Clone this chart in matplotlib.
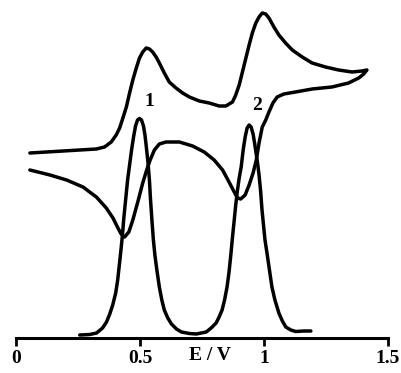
import matplotlib
matplotlib.use('Agg')
import matplotlib.pyplot as plt

# Cyclic voltammogram: forward scan (to 1.415 V) then reverse scan, arbitrary current units
cv_e = [0.056, 0.324, 0.357, 0.384, 0.404, 0.418, 0.431, 0.445, 0.458, 0.471,
        0.485, 0.498, 0.511, 0.525, 0.538, 0.551, 0.565, 0.578, 0.598, 0.618,
        0.645, 0.672, 0.699, 0.739, 0.779, 0.819, 0.846, 0.873, 0.886, 0.900,
        0.913, 0.927, 0.940, 0.953, 0.967, 0.980, 0.993, 1.007, 1.020, 1.040,
        1.060, 1.087, 1.114, 1.154, 1.194, 1.248, 1.301, 1.355, 1.395, 1.415,
        # reverse
        1.402, 1.382, 1.341, 1.274, 1.194, 1.127, 1.080, 1.053, 1.036, 1.020,
        1.007, 0.993, 0.980, 0.969, 0.956, 0.940, 0.924, 0.906, 0.893, 0.880,
        0.859, 0.833, 0.799, 0.759, 0.712, 0.659, 0.605, 0.578, 0.558, 0.541,
        0.527, 0.511, 0.491, 0.471, 0.455, 0.438, 0.424, 0.411, 0.391, 0.364,
        0.324, 0.270, 0.204, 0.137, 0.056]
cv_i = [185, 189, 191, 196, 203, 210, 220, 231, 245, 258,
        270, 280, 286, 290, 289, 286, 281, 275, 265, 256,
        250, 245, 241, 237, 235, 232, 232, 236, 243, 253,
        266, 280, 293, 305, 315, 321, 325, 324, 320, 311,
        303, 295, 288, 281, 275, 271, 268, 266, 267, 268,
        264, 260, 255, 251, 249, 246, 244, 241, 235, 226,
        218, 211, 195, 178, 165, 153, 143, 139, 140, 146,
        156, 168, 178, 186, 192, 196, 196, 194, 188, 178,
        168, 155, 136, 118, 106, 101, 104, 110, 120, 130,
        141, 151, 158, 163, 168]

# Differential pulse curve
dp_e = [0.257, 0.297, 0.325, 0.349, 0.365, 0.378, 0.390, 0.402, 0.410, 0.418,
        0.424, 0.430, 0.434, 0.442, 0.450, 0.458, 0.466, 0.474, 0.482, 0.490,
        0.498, 0.506, 0.514, 0.520, 0.526, 0.532, 0.538, 0.542, 0.548, 0.554,
        0.560, 0.568, 0.578, 0.588, 0.598, 0.612, 0.627, 0.647, 0.667, 0.699,
        0.727, 0.767, 0.787, 0.807, 0.819, 0.831, 0.841, 0.851, 0.859, 0.867,
        0.873, 0.880, 0.886, 0.892, 0.900, 0.908, 0.916, 0.924, 0.932, 0.940,
        0.948, 0.956, 0.962, 0.968, 0.974, 0.980, 0.986, 0.992, 0.998, 1.004,
        1.012, 1.022, 1.032, 1.044, 1.060, 1.074, 1.088, 1.108, 1.128, 1.161,
        1.189]
dp_i = [3, 3.5, 5, 10, 16, 24, 33, 45, 58, 76,
        90, 105, 118, 138, 158, 173, 188, 201, 212, 218,
        219.5, 218, 212, 203, 190, 176, 158, 140, 118, 98,
        83, 68, 51, 38, 28, 20, 14, 9, 6, 4.5,
        4, 6, 10, 15, 21, 28, 38, 51, 66, 85,
        101, 118, 133, 146, 160, 171, 188, 201, 210, 213,
        211, 204, 195, 185, 175, 163, 148, 128, 113, 98,
        85, 68, 51, 38, 25, 17, 11, 8, 6.5, 7,
        7]

xticks = [0, 0.5, 1, 1.5]
xticklabels = ['0', '0.5', '1', '1.5']
peak_labels = ['1', '2']
peak_pos = [(0.538, 236), (0.972, 233)]

serif = ['Liberation Serif', 'DejaVu Serif']

fig = plt.figure(figsize=(4.01, 3.73), dpi=100)
ax = fig.add_axes([16 / 401, 35 / 373, 372 / 401, 338 / 373])

ax.plot(cv_e, cv_i, color='black', lw=2.5, solid_joinstyle='round',
        solid_capstyle='round', clip_on=False)
ax.plot(dp_e, dp_i, color='black', lw=2.5, solid_joinstyle='round',
        solid_capstyle='round', clip_on=False)

for lab, (x, y) in zip(peak_labels, peak_pos):
    ax.text(x, y, lab, ha='center', va='center', fontsize=14,
            fontweight='bold', family=serif)

ax.set_xlim(0, 1.5)
ax.set_ylim(0, 338)
for s in ['top', 'left', 'right']:
    ax.spines[s].set_visible(False)
ax.spines['bottom'].set_linewidth(2.2)
ax.set_yticks([])
ax.set_xticks(xticks)
ax.set_xticklabels(xticklabels, fontsize=14, fontweight='bold', family=serif)
ax.tick_params(axis='x', direction='out', length=5.5, width=2.0, pad=3)
ax.patch.set_alpha(0)

fig.text(210 / 401, 1 - 356 / 373, 'E / V', ha='center', va='center',
         fontsize=14, fontweight='bold', family=serif)

fig.savefig('out.png', dpi=100)
